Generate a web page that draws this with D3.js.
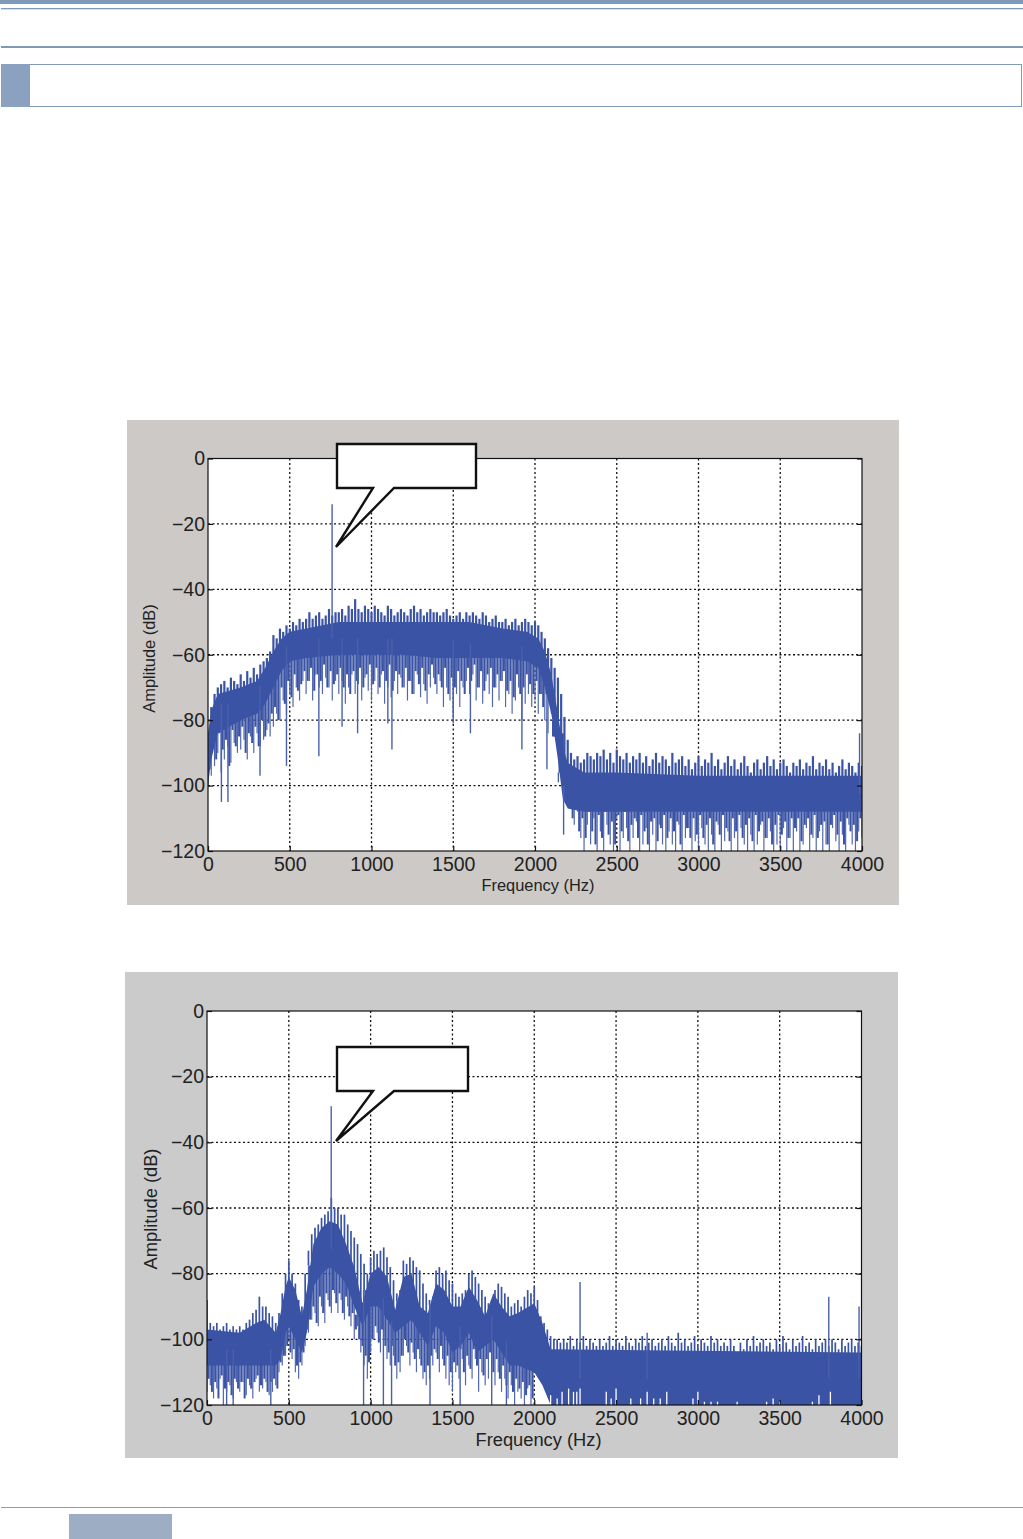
<!DOCTYPE html>
<html>
<head>
<meta charset="utf-8">
<script src="https://cdn.jsdelivr.net/npm/d3@7"></script>
<style>
  html, body { margin: 0; padding: 0; background: #fff; }
  svg { display: block; }
</style>
</head>
<body>
<div id="page"></div>
<script>
// tick labels
const freqTicks = [0, 500, 1000, 1500, 2000, 2500, 3000, 3500, 4000];
const ampTicks = [0, -20, -40, -60, -80, -100, -120];
const xLabel = "Frequency (Hz)";
const yLabel = "Amplitude (dB)";

// spectrum fringe, one value every 20 Hz from 0 Hz
const hi1 = [
  -88,-76,-72,-70,-69,-68,-70,-67,-68,-69,
  -66,-68,-65,-67,-64,-66,-63,-62,-61,-59,
  -54,-55,-52,-53,-51,-52,-50,-51,-49,-50,
  -49,-47,-49,-48,-47,-49,-48,-46,-48,-47,
  -47,-46,-48,-45,-46,-43,-46,-47,-45,-46,
  -47,-45,-46,-47,-48,-45,-46,-48,-47,-46,
  -47,-48,-46,-45,-47,-46,-48,-47,-46,-47,
  -47,-48,-47,-46,-48,-49,-48,-47,-49,-47,
  -48,-47,-48,-49,-47,-48,-50,-49,-48,-50,
  -50,-49,-51,-50,-49,-51,-50,-49,-50,-51,
  -50,-51,-53,-55,-58,-61,-64,-67,-72,-79,
  -86,-90,-92,-91,-93,-92,-90,-91,-92,-90,
  -91,-89,-92,-90,-93,-89,-91,-92,-90,-93,
  -91,-92,-90,-93,-91,-94,-92,-90,-93,-91,
  -92,-94,-90,-93,-92,-91,-94,-92,-95,-93,
  -91,-94,-92,-93,-90,-94,-92,-95,-93,-91,
  -94,-92,-95,-93,-91,-94,-96,-93,-92,-95,
  -93,-91,-94,-92,-95,-93,-92,-94,-96,-93,
  -94,-92,-95,-93,-94,-91,-95,-93,-94,-92,
  -95,-93,-96,-94,-92,-95,-93,-94,-96,-93,
  -94
];
const lo1 = [
  -100,-97,-94,-90,-96,-92,-88,-93,-87,-90,
  -89,-86,-92,-85,-90,-84,-88,-86,-83,-85,
  -82,-78,-80,-74,-78,-72,-76,-70,-74,-68,
  -72,-68,-74,-66,-70,-72,-67,-70,-74,-68,
  -72,-68,-75,-70,-66,-72,-69,-74,-67,-71,
  -74,-68,-72,-66,-75,-70,-73,-68,-72,-67,
  -70,-74,-68,-72,-66,-73,-69,-75,-70,-67,
  -72,-68,-76,-70,-74,-78,-72,-76,-70,-68,
  -72,-66,-74,-70,-75,-68,-72,-76,-70,-74,
  -68,-76,-72,-78,-74,-70,-80,-75,-72,-76,
  -74,-78,-72,-80,-84,-78,-82,-86,-90,-92,
  -100,-104,-112,-108,-116,-120,-112,-118,-110,-120,
  -114,-120,-112,-118,-120,-110,-120,-116,-113,-120,
  -116,-111,-120,-118,-113,-120,-115,-120,-112,-118,
  -120,-114,-118,-120,-112,-120,-116,-113,-120,-117,
  -120,-113,-118,-120,-115,-120,-112,-120,-117,-114,
  -120,-116,-120,-113,-118,-120,-115,-120,-118,-112,
  -120,-116,-114,-120,-118,-120,-113,-120,-116,-120,
  -114,-120,-118,-113,-120,-116,-120,-114,-120,-118,
  -120,-113,-117,-120,-115,-120,-112,-118,-120,-114,
  -116
];
// same lower fringe, the lines that fall between the ones above (10, 30, 50 Hz ...)
const loB1 = [
  -95,-88,-92,-84,-89,-86,-94,-83,-88,-85,
  -82,-90,-84,-87,-82,-88,-80,-85,-81,-78,
  -76,-80,-70,-75,-68,-73,-66,-71,-69,-65,
  -68,-64,-71,-66,-68,-63,-70,-65,-69,-66,
  -64,-70,-66,-72,-65,-68,-64,-70,-66,-63,
  -69,-64,-70,-65,-68,-63,-71,-65,-66,-70,
  -64,-68,-72,-65,-69,-64,-71,-66,-63,-69,
  -66,-70,-64,-72,-67,-70,-65,-68,-72,-64,
  -68,-63,-70,-65,-71,-66,-64,-70,-66,-68,
  -65,-71,-68,-73,-66,-72,-70,-66,-69,-72,
  -68,-72,-76,-70,-74,-80,-76,-88,-84,-98,
  -104,-110,-107,-114,-110,-116,-108,-114,-118,-109,
  -116,-108,-115,-111,-118,-109,-114,-108,-117,-112,
  -110,-116,-109,-114,-118,-111,-110,-117,-113,-109,
  -116,-110,-114,-111,-118,-109,-113,-116,-110,-115,
  -109,-116,-112,-110,-118,-111,-115,-109,-113,-117,
  -110,-114,-109,-116,-112,-110,-117,-109,-114,-111,
  -116,-110,-118,-112,-109,-115,-111,-116,-110,-113,
  -110,-117,-112,-110,-115,-109,-116,-112,-111,-118,
  -112,-109,-115,-111,-118,-110,-114,-112,-117,-110
];
const hi2 = [
  -88,-95,-96,-95,-97,-96,-95,-97,-96,-97,
  -96,-97,-95,-94,-92,-91,-87,-90,-90,-92,
  -93,-95,-92,-86,-80,-76,-80,-83,-88,-90,
  -80,-73,-68,-66,-65,-63,-62,-61,-57,-60,
  -60,-62,-62,-65,-67,-69,-71,-74,-77,-80,
  -75,-73,-74,-73,-72,-75,-78,-82,-86,-85,
  -76,-77,-75,-76,-78,-79,-83,-86,-88,-87,
  -79,-78,-80,-79,-82,-83,-86,-87,-86,-85,
  -80,-79,-81,-83,-85,-87,-89,-88,-85,-83,
  -84,-86,-87,-90,-89,-88,-90,-87,-85,-86,
  -84,-88,-93,-95,-97,-99,-100,-100,-101,-100,
  -101,-99,-102,-100,-101,-99,-102,-100,-101,-102,
  -100,-102,-101,-99,-102,-100,-101,-102,-99,-101,
  -102,-100,-101,-99,-102,-101,-100,-102,-101,-100,
  -102,-99,-101,-102,-98,-101,-100,-102,-101,-99,
  -102,-100,-101,-102,-99,-101,-100,-102,-101,-102,
  -100,-102,-104,-101,-103,-100,-102,-99,-102,-101,
  -100,-102,-101,-103,-100,-102,-99,-101,-103,-100,
  -102,-101,-99,-102,-101,-103,-100,-102,-101,-100,
  -102,-100,-101,-103,-100,-102,-101,-100,-102,-101,
  -102
];
const lo2 = [
  -116,-114,-118,-115,-112,-120,-116,-114,-118,-113,
  -116,-113,-117,-114,-118,-112,-116,-115,-113,-117,
  -116,-114,-110,-108,-105,-100,-106,-110,-112,-108,
  -102,-98,-94,-92,-96,-90,-95,-88,-92,-86,
  -92,-88,-94,-90,-96,-100,-96,-104,-108,-112,
  -104,-100,-98,-104,-100,-106,-108,-105,-112,-110,
  -105,-102,-108,-104,-110,-106,-112,-114,-112,-108,
  -104,-110,-106,-112,-114,-116,-110,-112,-106,-114,
  -108,-112,-106,-116,-110,-114,-112,-108,-114,-110,
  -116,-112,-118,-114,-120,-116,-118,-120,-115,-120
];
const loB2 = [
  -112,-116,-113,-118,-111,-115,-113,-117,-112,-115,
  -113,-118,-112,-115,-113,-111,-114,-112,-116,-113,
  -112,-115,-107,-105,-102,-104,-103,-108,-107,-104,
  -97,-94,-90,-95,-87,-92,-86,-90,-85,-89,
  -86,-92,-87,-93,-92,-97,-100,-102,-105,-107,
  -100,-96,-101,-97,-102,-104,-102,-108,-107,-105,
  -100,-104,-101,-106,-103,-108,-110,-108,-105,-103,
  -106,-102,-108,-105,-110,-107,-108,-103,-110,-105,
  -109,-103,-108,-106,-111,-106,-104,-110,-106,-112,
  -108,-114,-110,-116,-112,-115,-113,-117,-114,-118
];

// solid core of each trace
const bodyFreq1 = [0,20,60,200,300,350,400,450,500,600,800,900,1000,1200,1400,1600,1800,1950,2020,2060,2100,2140,2170,2200,2300,2500,3000,3500,4000];
const bodyHi1 = [-84,-77,-72,-70,-68,-64,-59,-55,-53,-52,-50,-50,-50,-50,-50,-50,-52,-53,-55,-59,-66,-78,-88,-93,-96,-96,-97,-97,-97];
const bodyLo1 = [-100,-92,-84,-80,-78,-75,-70,-65,-62,-61,-60,-60,-60,-60,-61,-61,-61,-62,-64,-70,-78,-92,-104,-107,-108,-108,-108,-108,-108];
const bodyFreq2 = [0,200,300,350,420,450,480,500,540,580,610,650,700,750,800,850,900,950,1000,1050,1100,1150,1200,1250,1300,1350,1400,1450,1500,1550,1600,1650,1700,1750,1800,1850,1900,2000,2050,2100,4000];
const bodyHi2 = [-97,-98,-95,-94,-98,-92,-84,-81,-85,-93,-85,-71,-66,-64,-65,-71,-78,-89,-80,-78,-81,-91,-81,-80,-90,-92,-83,-85,-90,-90,-84,-88,-93,-86,-90,-93,-92,-89,-95,-103,-104];
const bodyLo2 = [-108,-108,-108,-108,-108,-106,-98,-96,-100,-104,-98,-84,-80,-78,-80,-83,-90,-96,-90,-90,-94,-98,-96,-94,-98,-102,-96,-98,-104,-102,-98,-104,-102,-100,-104,-108,-108,-110,-114,-120,-120];

// single lines sticking out of the trace: frequency, level
const spikeFreq1 = [82,122,318,480,678,759,820,915,1100,1125,1500,1605,1920,2073,2143,2175,3985];
const spikeAmp1 = [-105,-105,-97,-94,-91,-14,-82,-84,-81,-89,-81,-84,-89,-95,-99,-115,-84];
const spikeFreq2 = [120,160,390,957,1078,1128,1363,1547,1740,1830,759,2280,2690,3800,3985];
const spikeAmp2 = [-120,-120,-120,-120,-120,-120,-120,-120,-120,-120,-29,-82.5,-98,-87,-90];
// small white gaps at the bottom of the second trace
const notchFreq2 = [2100,2140,2170,2210,2240,2260,2280,2440,2470,2500,2590,2650,2690,2730,2770,2810,2970,3000,3040,3080,3120,3240,3420,3460,3500,3700,3740,3810];
const notchAmp2 = [-117,-118,-116,-115,-116,-116,-115,-116,-118,-115,-118,-118,-116,-118,-118,-116,-118,-116,-119,-119,-119,-119,-119,-118,-119,-119,-117,-116];

const panels = [
  { left: 208, right: 862, top: 458.5, bottom: 851, bx: 127, by: 420, bw: 772, bh: 485, bg: "#ccc9c6",
    hi: hi1, lo: lo1, loB: loB1, bodyFreq: bodyFreq1, bodyHi: bodyHi1, bodyLo: bodyLo1,
    spikeFreq: spikeFreq1, spikeAmp: spikeAmp1, notchFreq: [], notchAmp: [], hiWidth: 2.2,
    font: 19.5, xSize: 16.4, ySize: 16.4, xLabelX: 538, xLabelY: 891, yLabelX: 155, yLabelY: 658.5,
    callout: "M337,444H476V488H394L336,547L373,488H337Z" },
  { left: 207, right: 861.5, top: 1011, bottom: 1405, bx: 125, by: 972, bw: 773, bh: 486, bg: "#cbcbcb",
    hi: hi2, lo: lo2, loB: loB2, bodyFreq: bodyFreq2, bodyHi: bodyHi2, bodyLo: bodyLo2,
    spikeFreq: spikeFreq2, spikeAmp: spikeAmp2, notchFreq: notchFreq2, notchAmp: notchAmp2, hiWidth: 1.7,
    font: 19.5, xSize: 18.3, ySize: 18.3, xLabelX: 538.5, xLabelY: 1446, yLabelX: 157, yLabelY: 1209,
    callout: "M337,1047H468V1091H394L336,1141L373,1091H337Z" }
];

const svg = d3.select("#page").append("svg")
  .attr("width", 1023)
  .attr("height", 1539);

// page furniture
const rule = "#7f9ab8";
svg.append("rect").attr("x", 0).attr("y", 0).attr("width", 1023).attr("height", 4).attr("fill", rule);
svg.append("rect").attr("x", 1).attr("y", 8).attr("width", 1022).attr("height", 1.3).attr("fill", rule);
svg.append("rect").attr("x", 1).attr("y", 46).attr("width", 1022).attr("height", 2).attr("fill", rule);
svg.append("rect").attr("x", 1.5).attr("y", 64.5).attr("width", 1020).attr("height", 42).attr("fill", "#fff").attr("stroke", rule);
svg.append("rect").attr("x", 1).attr("y", 64).attr("width", 29).attr("height", 43).attr("fill", "#8aa2bf");
svg.append("rect").attr("x", 1).attr("y", 1507).attr("width", 1022).attr("height", 1).attr("fill", "#8a9fb0");
svg.append("rect").attr("x", 69).attr("y", 1514).attr("width", 103).attr("height", 25).attr("fill", "#9cadc4");

const traceColor = "#3a53a4";

panels.forEach((p, idx) => {
  const x = d3.scaleLinear().domain([0, 4000]).range([p.left, p.right]);
  const y = d3.scaleLinear().domain([-120, 0]).range([p.bottom, p.top]);

  svg.append("rect").attr("x", p.bx).attr("y", p.by).attr("width", p.bw).attr("height", p.bh).attr("fill", p.bg);
  svg.append("rect").attr("x", p.left).attr("y", p.top).attr("width", p.right - p.left).attr("height", p.bottom - p.top).attr("fill", "#fff");

  // grid
  const grid = svg.append("g").attr("stroke", "#111").attr("stroke-dasharray", "2 2.5").attr("stroke-width", 1.3);
  grid.selectAll("line.v").data(freqTicks.slice(1, -1)).join("line").attr("class", "v")
    .attr("x1", d => x(d)).attr("x2", d => x(d)).attr("y1", p.top).attr("y2", p.bottom);
  grid.selectAll("line.h").data(ampTicks.slice(1, -1)).join("line").attr("class", "h")
    .attr("x1", p.left).attr("x2", p.right).attr("y1", d => y(d)).attr("y2", d => y(d));

  svg.append("clipPath").attr("id", "plot" + idx).append("rect")
    .attr("x", p.left).attr("y", p.top).attr("width", p.right - p.left).attr("height", p.bottom - p.top);
  const plot = svg.append("g").attr("clip-path", `url(#plot${idx})`);

  const coreMid = f => {
    const i = d3.bisectLeft(p.bodyFreq, f);
    return (p.bodyHi[i] + p.bodyLo[i]) / 2;
  };

  // lower fringe: thin pale lines, then heavier ones that roughen the core's edge
  plot.append("g").attr("stroke", "#5267af").attr("stroke-width", 1.2)
    .selectAll("line").data(p.lo).join("line")
    .attr("x1", (d, i) => x(i * 20)).attr("x2", (d, i) => x(i * 20))
    .attr("y1", d => y(d)).attr("y2", (d, i) => y(coreMid(i * 20)));
  plot.append("g").attr("stroke", traceColor).attr("stroke-width", 2)
    .selectAll("line").data(p.loB).join("line")
    .attr("x1", (d, i) => x(i * 20 + 10)).attr("x2", (d, i) => x(i * 20 + 10))
    .attr("y1", d => y(d)).attr("y2", (d, i) => y(coreMid(i * 20 + 10)));

  // upper fringe
  plot.append("g").attr("stroke", traceColor).attr("stroke-width", p.hiWidth)
    .selectAll("line").data(p.hi).join("line")
    .attr("x1", (d, i) => x(i * 20)).attr("x2", (d, i) => x(i * 20))
    .attr("y1", d => y(d)).attr("y2", (d, i) => y(coreMid(i * 20)));

  // solid core
  const core = d3.area()
    .x(d => x(d[0])).y0(d => y(d[2])).y1(d => y(d[1]));
  plot.append("path")
    .datum(p.bodyFreq.map((f, i) => [f, p.bodyHi[i], p.bodyLo[i]]))
    .attr("d", core).attr("fill", traceColor);

  // spikes run into the nearest core level
  plot.append("g").attr("stroke", "#4a60ab").attr("stroke-width", 1.4)
    .selectAll("line").data(p.spikeFreq).join("line")
    .attr("x1", d => x(d)).attr("x2", d => x(d))
    .attr("y1", (d, i) => y(p.spikeAmp[i])).attr("y2", d => y(coreMid(d)));

  plot.append("g").attr("stroke", "#fff").attr("stroke-width", 1.3)
    .selectAll("line").data(p.notchFreq).join("line")
    .attr("x1", d => x(d)).attr("x2", d => x(d))
    .attr("y1", (d, i) => y(p.notchAmp[i])).attr("y2", y(-120));

  // frame and axes
  svg.append("rect").attr("x", p.left).attr("y", p.top).attr("width", p.right - p.left).attr("height", p.bottom - p.top)
    .attr("fill", "none").attr("stroke", "#111").attr("stroke-width", 1.2);

  const fmt = d => String(d).replace("-", "\u2212");
  const xAxis = svg.append("g").attr("transform", `translate(0,${p.bottom})`)
    .call(d3.axisBottom(x).tickValues(freqTicks).tickSize(-5).tickPadding(6).tickFormat(fmt));
  const yAxis = svg.append("g").attr("transform", `translate(${p.left},0)`)
    .call(d3.axisLeft(y).tickValues(ampTicks).tickSize(-5).tickPadding(3).tickFormat(fmt));
  const rightTicks = svg.append("g").attr("transform", `translate(${p.right},0)`)
    .call(d3.axisRight(y).tickValues(ampTicks).tickSize(-5).tickFormat(""));
  [xAxis, yAxis, rightTicks].forEach(a => {
    a.select(".domain").remove();
    a.selectAll("line").attr("stroke", "#111").attr("stroke-width", 1.2);
    a.selectAll("text").attr("fill", "#222").attr("font-family", "'Liberation Sans', Arial, sans-serif").attr("font-size", p.font);
  });

  svg.append("text").attr("x", p.xLabelX).attr("y", p.xLabelY)
    .attr("text-anchor", "middle").attr("fill", "#222")
    .attr("font-family", "'Liberation Sans', Arial, sans-serif").attr("font-size", p.xSize)
    .text(xLabel);
  svg.append("text").attr("transform", `translate(${p.yLabelX},${p.yLabelY}) rotate(-90)`)
    .attr("text-anchor", "middle").attr("fill", "#222")
    .attr("font-family", "'Liberation Sans', Arial, sans-serif").attr("font-size", p.ySize)
    .text(yLabel);

  // callout bubble, text left empty as in the source
  svg.append("path").attr("d", p.callout).attr("fill", "#fff").attr("stroke", "#111").attr("stroke-width", 2.4);
});
</script>
</body>
</html>
